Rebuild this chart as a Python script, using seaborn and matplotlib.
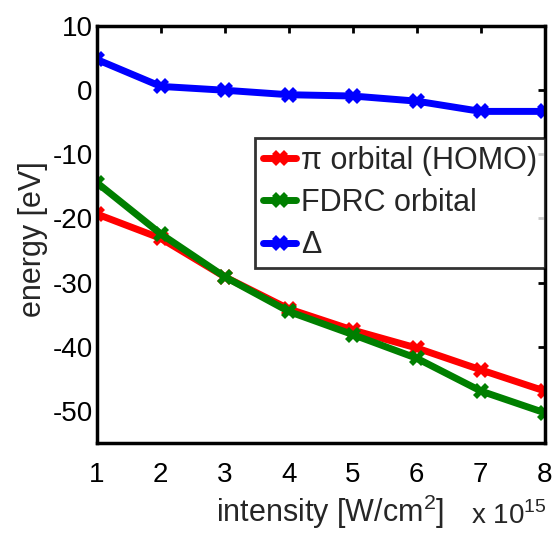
import matplotlib
matplotlib.use("Agg")
import matplotlib.pyplot as plt
import pandas as pd
import seaborn as sns

intensity = [1, 2, 3, 4, 5, 6, 7, 8]
pi_orbital = [-19.3, -23.1, -29.1, -34.1, -37.4, -40.2, -43.6, -46.9]
fdrc_orbital = [-14.4, -22.4, -29.1, -34.5, -38.1, -41.8, -46.9, -50.3]
delta = [4.8, 0.6, 0.0, -0.7, -0.9, -1.7, -3.3, -3.3]

series_names = ["\u03c0 orbital (HOMO)", "FDRC orbital", "\u0394"]
series_colors = ["#ff0000", "#007f00", "#0000ff"]

sns.set_style("white")
plt.rcParams["font.family"] = ["Liberation Sans", "DejaVu Sans"]
plt.rcParams["mathtext.fontset"] = "custom"
plt.rcParams["mathtext.rm"] = "Liberation Sans"
plt.rcParams["axes.unicode_minus"] = False

df = pd.DataFrame({
    "intensity": intensity * 3,
    "energy": pi_orbital + fdrc_orbital + delta,
    "series": [n for n in series_names for _ in intensity],
})

fig = plt.figure(figsize=(5.53, 5.33), dpi=100)
ax = fig.add_axes([0.175, 0.169, 0.81, 0.782])

for name, color in zip(series_names, series_colors):
    sub = df[df["series"] == name]
    sns.lineplot(data=sub, x="intensity", y="energy", ax=ax, color=color,
                 linewidth=5, marker="X", markersize=12, markeredgewidth=0,
                 label=name)

ax.set_xlim(1, 8)
ax.set_ylim(-55, 10)
ax.set_xticks(intensity)
ax.set_yticks([10, 0, -10, -20, -30, -40, -50])
ax.tick_params(axis="both", direction="in", length=5, width=2, labelsize=20,
               top=True, right=True, colors="black")
ax.tick_params(axis="x", pad=14)
ax.tick_params(axis="y", pad=3)
for s in ax.spines.values():
    s.set_linewidth(2.5)
    s.set_color("black")

ax.set_xlabel("intensity [W/cm$^2$]", fontsize=22)
ax.xaxis.set_label_coords(0.52, -0.12)
ax.set_ylabel("energy [eV]", fontsize=22)
ax.yaxis.set_label_coords(-0.11, 0.49)
ax.text(1.005, -0.195, "x 10$^{15}$", transform=ax.transAxes, ha="right",
        va="baseline", fontsize=20)

leg = ax.legend(loc="upper right", bbox_to_anchor=(1.0, 0.731), fontsize=22,
                frameon=True, fancybox=False, handlelength=1.1,
                handletextpad=0.15, borderpad=0.25, labelspacing=0.4,
                borderaxespad=0)
leg.get_frame().set_edgecolor("black")
leg.get_frame().set_linewidth(2)

fig.savefig("out.png", dpi=100)
